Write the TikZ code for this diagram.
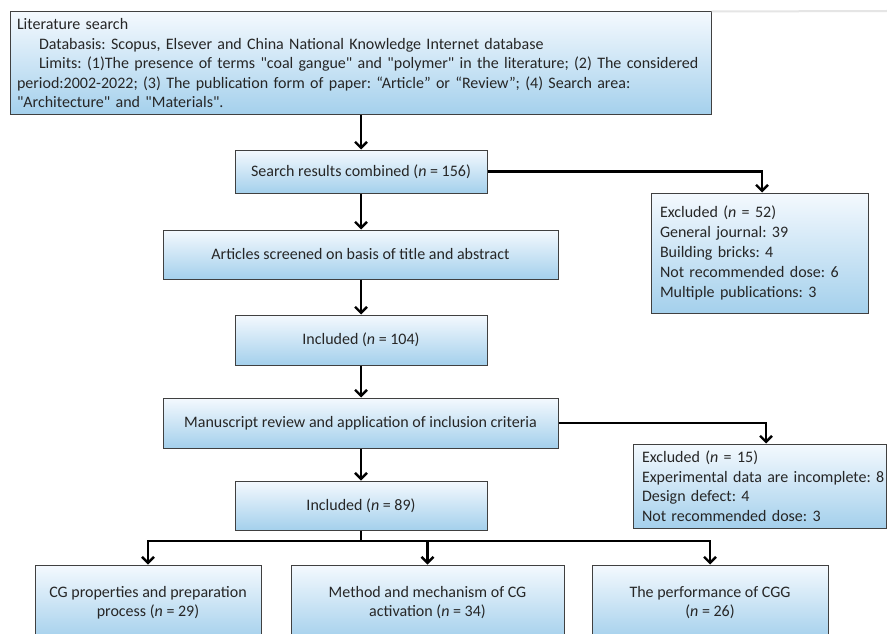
\documentclass[tikz,border=0pt]{standalone}
\usepackage{fontspec}
\setmainfont{Carlito}[Ligatures=TeXOff]
\usetikzlibrary{arrows.meta}
\definecolor{boxtop}{RGB}{244,249,254}
\definecolor{boxbot}{RGB}{164,208,236}
\definecolor{boxline}{RGB}{64,64,64}
\frenchspacing
\tikzset{
  box/.style={draw=boxline, line width=1pt, top color=boxtop, bottom color=boxbot,
    inner sep=0pt, font=\fontsize{16}{19.5}\selectfont\frenchspacing, text=black!85},
  arr/.style={line width=2.4pt, -{Straight Barb[length=6pt,width=12pt]}},
  conn/.style={line width=2.4pt},
}
\begin{document}
\begin{tikzpicture}[x=1pt,y=-1pt]
\useasboundingbox (0,0) rectangle (887,634);
\clip (0,0) rectangle (887,634);
\fill[white] (0,0) rectangle (887,634);
% boxes
\node[box, minimum width=701pt, minimum height=103pt, text width=687pt, align=left] (top) at (360.5,63.5)
 {Literature search\\
 \hspace*{22pt}Databasis: Scopus, Elsever and China National Knowledge Internet database\\
 \hspace*{22pt}\mbox{Limits: (1)The presence of terms "coal gangue" and "polymer" in the literature; (2) The considered}\\
 period:2002-2022; (3) The publication form of paper: “Article” or “Review”; (4) Search area:\\
 "Architecture" and "Materials".};
\draw[line width=2pt, black!10] (top.north east) -- (887,11);
\node[box, minimum width=252pt, minimum height=43pt] (search) at (361,171.5) {Search results combined (\textit{n} = 156)};
\node[box, minimum width=395pt, minimum height=49pt] (art) at (360.5,254.5) {Articles screened on basis of title and abstract};
\node[box, minimum width=252pt, minimum height=50pt] (inc1) at (361,340) {Included (\textit{n} = 104)};
\node[box, minimum width=395pt, minimum height=50pt] (man) at (360.5,423) {Manuscript review and application of inclusion criteria};
\node[box, minimum width=252pt, minimum height=49pt] (inc2) at (361,505.5) {Included (\textit{n} = 89)};
\node[box, minimum width=217pt, minimum height=120pt, text width=199pt, align=left, font=\fontsize{16}{19.8}\selectfont\frenchspacing] (ex1) at (759.5,253)
 {Excluded (\textit{n} = 52)\\General journal: 39\\Building bricks: 4\\Not recommended dose: 6\\Multiple publications: 3};
\node[box, minimum width=253pt, minimum height=84pt, text width=235pt, align=left] (ex2) at (759.5,486)
 {Excluded (\textit{n} = 15)\\\mbox{Experimental data are incomplete: 8}\\Design defect: 4\\Not recommended dose: 3};
\node[box, minimum width=226pt, minimum height=75pt, align=center] (b1) at (148,602.5)
 {CG properties and preparation\\process (\textit{n} = 29)};
\node[box, minimum width=273pt, minimum height=75pt, align=center] (b2) at (427.5,602.5)
 {Method and mechanism of CG\\activation (\textit{n} = 34)};
\node[box, minimum width=236pt, minimum height=75pt, align=center] (b3) at (710,602.5)
 {The performance of CGG\\(\textit{n} = 26)};
% connectors
\draw[arr] (search.north |- top.south) -- (search.north);
\draw[arr] (search.south) -- (art.north -| search.south);
\draw[arr] (art.south -| inc1.north) -- (inc1.north);
\draw[arr] (inc1.south) -- (man.north -| inc1.south);
\draw[arr] (man.south -| inc2.north) -- (inc2.north);
\draw[arr] (search.east) -| ([xshift=2.5pt]ex1.north);
\draw[arr] (man.east) -| ([xshift=6.5pt]ex2.north);
\coordinate (split) at (inc2.south |- 0,541);
\draw[conn] (inc2.south) -- (split);
\draw[arr] (split) -| (b1.north);
\draw[arr] (split) -| (b2.north);
\draw[arr] (split) -| (b3.north);
\end{tikzpicture}
\end{document}
